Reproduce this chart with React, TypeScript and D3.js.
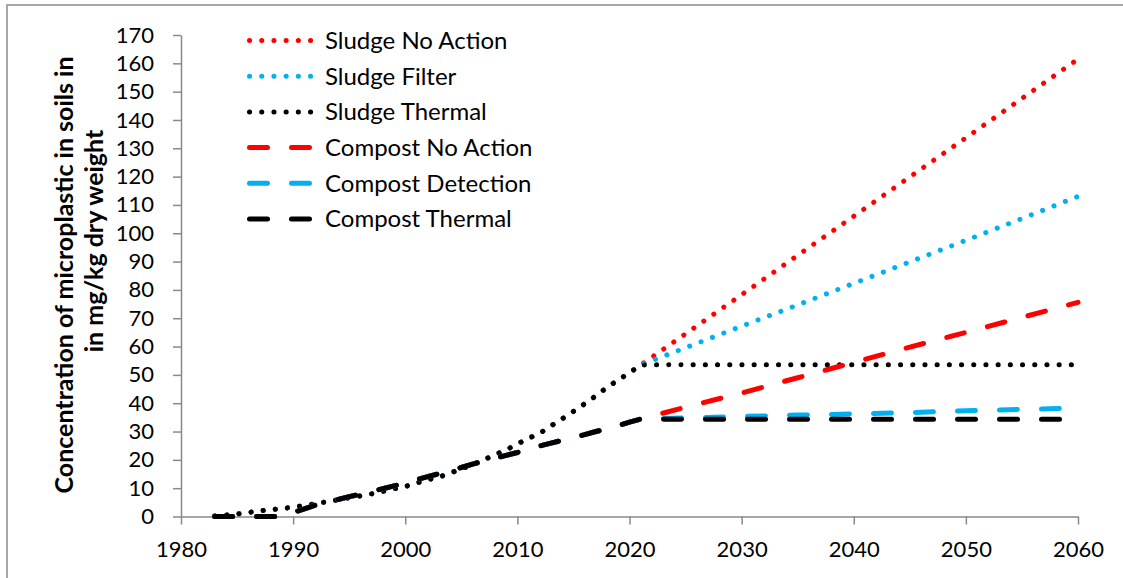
import { useRef, useEffect } from 'react';
import * as d3 from 'd3';

// shared history, 1983-2021
const histYears = [
  1983, 1984, 1985, 1986, 1987, 1988, 1989, 1990, 1991, 1992,
  1993, 1994, 1995, 1996, 1997, 1998, 1999, 2000, 2001, 2002,
  2003, 2004, 2005, 2006, 2007, 2008, 2009, 2010, 2011, 2012,
  2013, 2014, 2015, 2016, 2017, 2018, 2019, 2020, 2021,
];
const sludgeHist = [
  0.2, 0.5, 0.9, 1.4, 2.0, 2.4, 2.8, 3.3, 3.9, 4.5,
  5.2, 5.9, 6.6, 7.3, 8.0, 8.9, 9.8, 10.6, 11.8, 13.0,
  13.9, 15.3, 16.8, 18.3, 20.0, 21.8, 23.5, 25.6, 27.6, 29.4,
  32.0, 34.5, 37.1, 39.8, 42.6, 45.6, 48.2, 50.8, 53.5,
];
const compostHist = [
  0, 0, 0, 0, 0, 0, 0, 1.4, 2.7, 4.0,
  5.0, 6.0, 7.0, 7.9, 8.9, 9.8, 10.8, 11.8, 13.0, 14.1,
  15.1, 16.2, 17.3, 18.5, 19.5, 20.6, 21.6, 22.6, 23.8, 24.9,
  25.9, 26.9, 27.9, 28.9, 30.0, 31.0, 32.1, 33.3, 34.4,
];

// scenarios
const futureYears = [2025, 2030, 2035, 2040, 2045, 2050, 2055, 2060];
const sludgeNoAction = [64.5, 78.3, 92.2, 106.0, 119.9, 133.7, 147.6, 161.5];
const sludgeFilter = [59.6, 67.2, 74.7, 82.3, 89.9, 97.5, 105.2, 113.0];
const sludgeThermal = [53.6, 53.6, 53.6, 53.6, 53.6, 53.6, 53.6, 53.6];
const compostNoAction = [38.6, 43.6, 49.0, 54.4, 59.8, 65.0, 70.3, 75.6];
const compostDetection = [34.8, 35.3, 35.8, 36.2, 36.7, 37.3, 37.8, 38.3];
const compostThermal = [34.3, 34.3, 34.3, 34.3, 34.3, 34.3, 34.3, 34.3];

const seriesNames = [
  'Sludge No Action', 'Sludge Filter', 'Sludge Thermal',
  'Compost No Action', 'Compost Detection', 'Compost Thermal',
];
const seriesColors = ['#ff0000', '#00b0f0', '#000000', '#ff0000', '#00b0f0', '#000000'];

const xTicks = [1980, 1990, 2000, 2010, 2020, 2030, 2040, 2050, 2060];
const yTicks = d3.range(0, 171, 10);

const FONT = 'Lato, sans-serif';
const DOT = '0.1 12.1';
const DASH = '18 24';

export default function App() {
  const svgRef = useRef<SVGSVGElement>(null);

  useEffect(() => {
    if (!svgRef.current) return;
    const svg = d3.select(svgRef.current);
    svg.selectAll('*').remove();

    const x = d3.scaleLinear().domain([1980, 2060]).range([181, 1078]);
    const y = d3.scaleLinear().domain([0, 170]).range([516.5, 35]);

    // chart frame (partly off page)
    svg.append('rect')
      .attr('x', 7).attr('y', 5)
      .attr('width', 1140).attr('height', 600)
      .attr('fill', 'none')
      .attr('stroke', '#a6a6a6')
      .attr('stroke-width', 2);

    // axes
    const yAxis = svg.append('g')
      .attr('transform', `translate(${x(1980)},0)`)
      .call(d3.axisLeft(y).tickValues(yTicks).tickSize(8).tickSizeOuter(0).tickPadding(19));
    const xAxis = svg.append('g')
      .attr('transform', `translate(0,${y(0)})`)
      .call(d3.axisBottom(x).tickValues(xTicks).tickFormat(d3.format('d')).tickSize(8).tickSizeOuter(0).tickPadding(17));
    [yAxis, xAxis].forEach(a => {
      a.selectAll('path, line').attr('stroke', '#898989').attr('stroke-width', 1.5);
      a.selectAll('text')
        .attr('fill', '#000')
        .attr('font-family', FONT)
        .attr('font-size', 22);
    });

    // y title, two lines
    const title = [
      { text: 'Concentration of microplastic in soils in', cx: 73, cy: 275 },
      { text: 'in mg/kg dry weight', cx: 103, cy: 241 },
    ];
    title.forEach(t => {
      svg.append('text')
        .attr('transform', `translate(${t.cx},${t.cy}) rotate(-90)`)
        .attr('text-anchor', 'middle')
        .attr('font-family', FONT)
        .attr('font-weight', 'bold')
        .attr('font-size', 25)
        .attr('fill', '#000')
        .text(t.text);
    });

    const allYears = [...histYears, ...futureYears];
    const seriesValues = [
      [...sludgeHist, ...sludgeNoAction],
      [...sludgeHist, ...sludgeFilter],
      [...sludgeHist, ...sludgeThermal],
      [...compostHist, ...compostNoAction],
      [...compostHist, ...compostDetection],
      [...compostHist, ...compostThermal],
    ];

    const line = d3.line<number>()
      .x((_, i) => x(allYears[i]))
      .y(d => y(d));

    seriesValues.forEach((vals, k) => {
      svg.append('path')
        .attr('d', line(vals))
        .attr('fill', 'none')
        .attr('stroke', seriesColors[k])
        .attr('stroke-width', 5)
        .attr('stroke-linecap', 'round')
        .attr('stroke-linejoin', 'round')
        .attr('stroke-dasharray', k < 3 ? DOT : DASH);
    });

    // legend
    const lg = svg.append('g');
    seriesNames.forEach((name, k) => {
      const ly = 40.5 + k * 35.7;
      lg.append('line')
        .attr('x1', 249.5).attr('x2', 311.5)
        .attr('y1', ly).attr('y2', ly)
        .attr('stroke', seriesColors[k])
        .attr('stroke-width', 5)
        .attr('stroke-linecap', 'round')
        .attr('stroke-dasharray', k < 3 ? DOT : DASH);
      lg.append('text')
        .attr('x', 325).attr('y', ly)
        .attr('dy', '0.35em')
        .attr('font-family', FONT)
        .attr('font-size', 24)
        .attr('fill', '#000')
        .text(name);
    });
  }, []);

  return (
    <svg
      ref={svgRef}
      width={1123}
      height={578}
      style={{ position: 'absolute', left: 0, top: 0, background: '#fff' }}
    />
  );
}
